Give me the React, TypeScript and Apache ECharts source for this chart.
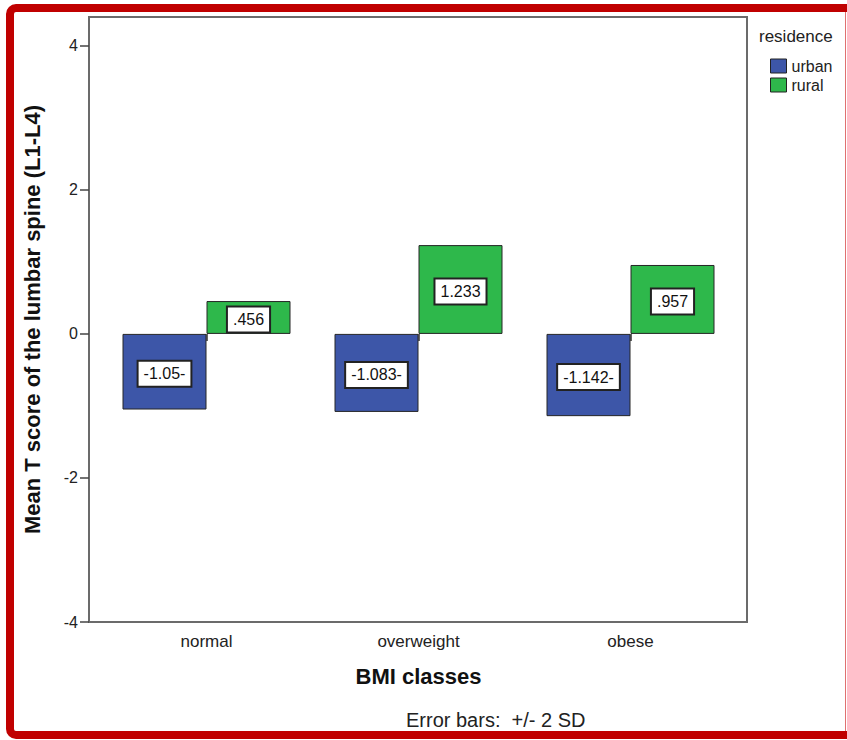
import React, { useEffect, useRef } from "react";
import * as echarts from "echarts";

const categories = ["normal", "overweight", "obese"];
const urbanValues = [-1.05, -1.083, -1.142];
const ruralValues = [0.456, 1.233, 0.957];
const urbanLabels = ["-1.05-", "-1.083-", "-1.142-"];
const ruralLabels = [".456", "1.233", ".957"];
const yTicks = [-4, -2, 0, 2, 4];
const seriesNames = ["urban", "rural"];

const FONT = "'Liberation Sans', Arial, sans-serif";

export default function App() {
  const ref = useRef<HTMLDivElement>(null);
  useEffect(() => {
    if (!ref.current) return;
    const chart = echarts.init(ref.current, undefined, { renderer: "svg" });
    const labelBox = (texts: string[]) => ({
      show: true,
      position: "inside",
      offset: [0, 2],
      formatter: (p: any) => texts[p.dataIndex],
      fontFamily: FONT,
      fontSize: 16,
      lineHeight: 16,
      color: "#111",
      backgroundColor: "#ffffff",
      borderColor: "#222",
      borderWidth: 2,
      padding: [4, 5],
    });
    chart.setOption({
      animation: false,
      textStyle: { fontFamily: FONT },
      grid: [
        {
          left: 89,
          top: 17,
          width: 658,
          height: 605,
          show: true,
          borderColor: "#6b6b6b",
          borderWidth: 2,
          backgroundColor: "transparent",
        },
        { left: 100.5, top: 17, width: 636, height: 605 },
      ],
      xAxis: [
        { gridIndex: 0, type: "category", data: [""], show: false },
        {
          gridIndex: 1,
          type: "category",
          data: categories,
          axisLine: { show: false },
          axisTick: {
            show: true,
            alignWithLabel: true,
            length: 7,
            lineStyle: { color: "#333", width: 1.5 },
          },
          axisLabel: { fontSize: 17, color: "#222", margin: 11, fontFamily: FONT },
          name: "BMI classes",
          nameLocation: "middle",
          nameGap: 43,
          nameTextStyle: { fontSize: 22, fontWeight: "bold", color: "#111", fontFamily: FONT },
        },
      ],
      yAxis: [
        {
          gridIndex: 0,
          type: "value",
          min: -4,
          max: 4.4,
          interval: 2,
          splitLine: { show: false },
          axisLine: { show: true, lineStyle: { color: "#6b6b6b", width: 2 } },
          axisTick: {
            show: true,
            length: 9,
            customValues: yTicks,
            lineStyle: { color: "#444", width: 1.5 },
          },
          axisLabel: {
            customValues: yTicks,
            fontSize: 16,
            color: "#222",
            margin: 11,
            fontFamily: FONT,
          },
          name: "Mean T score of the lumbar spine (L1-L4)",
          nameLocation: "middle",
          nameGap: 46,
          nameTextStyle: { fontSize: 22, fontWeight: "bold", color: "#111", fontFamily: FONT },
        },
        { gridIndex: 1, type: "value", min: -4, max: 4.4, show: false, splitLine: { show: false } },
      ],
      legend: {
        data: seriesNames,
        orient: "vertical",
        left: 770,
        top: 58,
        padding: 0,
        itemWidth: 16,
        itemHeight: 14,
        itemGap: 3,
        icon: "rect",
        itemStyle: { borderColor: "#222", borderWidth: 1 },
        textStyle: { fontSize: 16, lineHeight: 16, color: "#222", fontFamily: FONT },
      },
      series: [
        {
          name: seriesNames[0],
          type: "bar",
          xAxisIndex: 1,
          yAxisIndex: 1,
          data: urbanValues,
          barWidth: 84,
          barGap: "0%",
          itemStyle: { color: "#3d56a8", borderColor: "#262626", borderWidth: 1 },
          label: labelBox(urbanLabels),
        },
        {
          name: seriesNames[1],
          type: "bar",
          xAxisIndex: 1,
          yAxisIndex: 1,
          data: ruralValues,
          barWidth: 84,
          barGap: "0%",
          itemStyle: { color: "#2eb84b", borderColor: "#262626", borderWidth: 1 },
          label: labelBox(ruralLabels),
        },
      ],
      graphic: [
        {
          type: "text",
          left: 759,
          top: 28,
          style: { text: "residence", fontSize: 17, fill: "#222", fontFamily: FONT },
        },
        {
          type: "text",
          left: 406,
          top: 710,
          style: { text: "Error bars:  +/- 2 SD", fontSize: 20, fill: "#222", fontFamily: FONT },
        },
        {
          type: "rect",
          shape: { x: 10, y: 8, width: 850, height: 727, r: 6 },
          style: { fill: "none", stroke: "#c00000", lineWidth: 8 },
          z: 100,
        },
        {
          type: "line",
          shape: { x1: 845.5, y1: 12, x2: 845.5, y2: 731 },
          style: { stroke: "#e07070", lineWidth: 1 },
          z: 100,
        },
      ],
    });
    return () => chart.dispose();
  }, []);
  return (
    <div
      ref={ref}
      style={{ position: "absolute", left: 0, top: 0, width: 847, height: 740, background: "#fff" }}
    />
  );
}
